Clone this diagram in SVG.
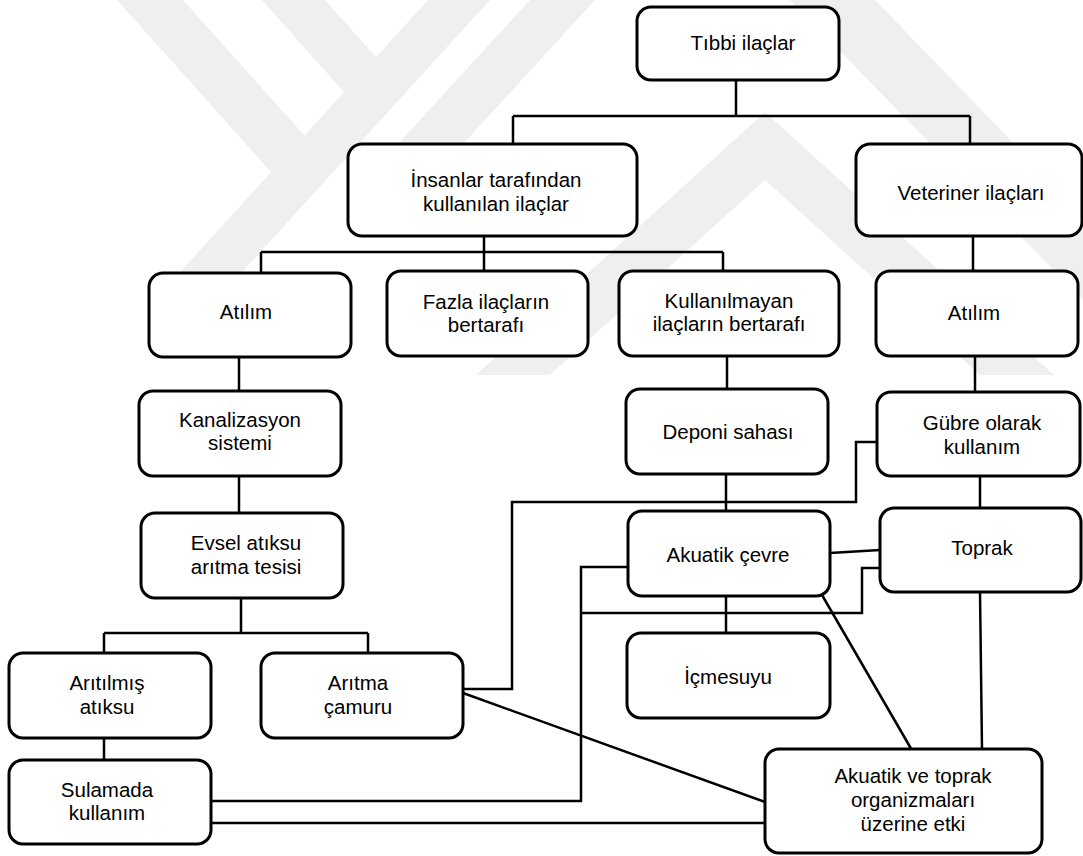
<svg xmlns="http://www.w3.org/2000/svg" width="1083" height="856" viewBox="0 0 1083 856">
<style>
.wm{fill:#efefef;stroke:none}
.box{fill:#ffffff;stroke:#000000;stroke-width:3}
.t{font-family:"Liberation Sans",Arial,sans-serif;font-size:20.5px;text-anchor:middle;fill:#000000}
.c{fill:none;stroke:#000000;stroke-width:2.5}
</style>
<rect x="0" y="0" width="1083" height="856" fill="#ffffff"/>
<g id="watermark">
<polygon class="wm" points="117,0 183,0 305,136 271,172"/>
<polygon class="wm" points="262,0 325,0 376,57 344,92"/>
<polygon class="wm" points="428,0 490,0 212,305 150,305"/>
<polygon class="wm" points="530,0 595,0 430,180 365,180"/>
<polygon class="wm" points="476,375 765,112 1054,375 980,375 765,180 550,375"/>
<polygon class="wm" points="790,0 875,0 1083,215 1083,300"/>
</g>
<g id="connectors">
<path class="c" d="M736,80 V116 M513,116 H970 M513,116 V144 M970,116 V144"/>
<path class="c" d="M484,236 V271 M261,252 H723 M261,252 V273 M723,252 V271"/>
<path class="c" d="M973,236 V271"/>
<path class="c" d="M975,356 V392"/>
<path class="c" d="M727,356 V389"/>
<path class="c" d="M726,474 V511"/>
<path class="c" d="M980,476 V508"/>
<path class="c" d="M239,357 V391" stroke-width="2"/>
<path class="c" d="M239,476 V513" stroke-width="2"/>
<path class="c" d="M241,598 V633 M104,633 H368 M104,633 V653 M368,633 V653"/>
<path class="c" d="M104,738 V760"/>
<path class="c" d="M463,689 H512 V502 H856 V442 H877"/>
<path class="c" d="M463,693 L765,802"/>
<path class="c" d="M211,801 H581 V567 H628"/>
<path class="c" d="M211,823 H765"/>
<path class="c" d="M880,568 H862 V613 H581"/>
<path class="c" d="M830,553 L880,550"/>
<path class="c" d="M726,596 V633"/>
<path class="c" d="M822,595 L913,752"/>
<path class="c" d="M980,592 L982,749"/>
</g>
<g id="n-tibbi"><rect class="box" x="637" y="7" width="202" height="73" rx="14"/><text class="t" x="743" y="50">Tıbbi ilaçlar</text></g>
<g id="n-insanlar"><rect class="box" x="348" y="144" width="289" height="92" rx="14"/><text class="t" x="496" y="187">İnsanlar tarafından</text><text class="t" x="496" y="211">kullanılan ilaçlar</text></g>
<g id="n-veteriner"><rect class="box" x="856" y="144" width="226" height="92" rx="14"/><text class="t" x="971" y="200">Veteriner ilaçları</text></g>
<g id="n-atilim1"><rect class="box" x="149" y="273" width="202" height="84" rx="14"/><text class="t" x="246" y="319">Atılım</text></g>
<g id="n-fazla"><rect class="box" x="387" y="271" width="201" height="85" rx="14"/><text class="t" x="486" y="309">Fazla ilaçların</text><text class="t" x="486" y="332">bertarafı</text></g>
<g id="n-kullanilmayan"><rect class="box" x="619" y="271" width="220" height="85" rx="14"/><text class="t" x="729" y="308">Kullanılmayan</text><text class="t" x="729" y="331">ilaçların bertarafı</text></g>
<g id="n-atilim2"><rect class="box" x="876" y="271" width="202" height="85" rx="14"/><text class="t" x="974" y="320">Atılım</text></g>
<g id="n-kanalizasyon"><rect class="box" x="139" y="391" width="202" height="85" rx="14"/><text class="t" x="240" y="427">Kanalizasyon</text><text class="t" x="240" y="450">sistemi</text></g>
<g id="n-deponi"><rect class="box" x="626" y="389" width="202" height="85" rx="14"/><text class="t" x="728" y="439">Deponi sahası</text></g>
<g id="n-gubre"><rect class="box" x="877" y="392" width="203" height="84" rx="14"/><text class="t" x="982" y="430">Gübre olarak</text><text class="t" x="982" y="454">kullanım</text></g>
<g id="n-evsel"><rect class="box" x="141" y="513" width="202" height="85" rx="14"/><text class="t" x="246" y="550">Evsel atıksu</text><text class="t" x="246" y="574">arıtma tesisi</text></g>
<g id="n-akuatik"><rect class="box" x="628" y="511" width="202" height="85" rx="14"/><text class="t" x="728" y="562">Akuatik çevre</text></g>
<g id="n-toprak"><rect class="box" x="880" y="508" width="201" height="84" rx="14"/><text class="t" x="982" y="555">Toprak</text></g>
<g id="n-aritilmis"><rect class="box" x="9" y="653" width="202" height="85" rx="14"/><text class="t" x="107" y="690">Arıtılmış</text><text class="t" x="107" y="714">atıksu</text></g>
<g id="n-aritma"><rect class="box" x="261" y="653" width="202" height="85" rx="14"/><text class="t" x="358" y="690">Arıtma</text><text class="t" x="358" y="714">çamuru</text></g>
<g id="n-icmesuyu"><rect class="box" x="627" y="633" width="203" height="85" rx="14"/><text class="t" x="728" y="684">İçmesuyu</text></g>
<g id="n-sulamada"><rect class="box" x="9" y="760" width="202" height="84" rx="14"/><text class="t" x="107" y="797">Sulamada</text><text class="t" x="107" y="820">kullanım</text></g>
<g id="n-etki"><rect class="box" x="765" y="749" width="277" height="104" rx="14"/><text class="t" x="913" y="783">Akuatik ve toprak</text><text class="t" x="913" y="807">organizmaları</text><text class="t" x="913" y="831">üzerine etki</text></g>
</svg>
